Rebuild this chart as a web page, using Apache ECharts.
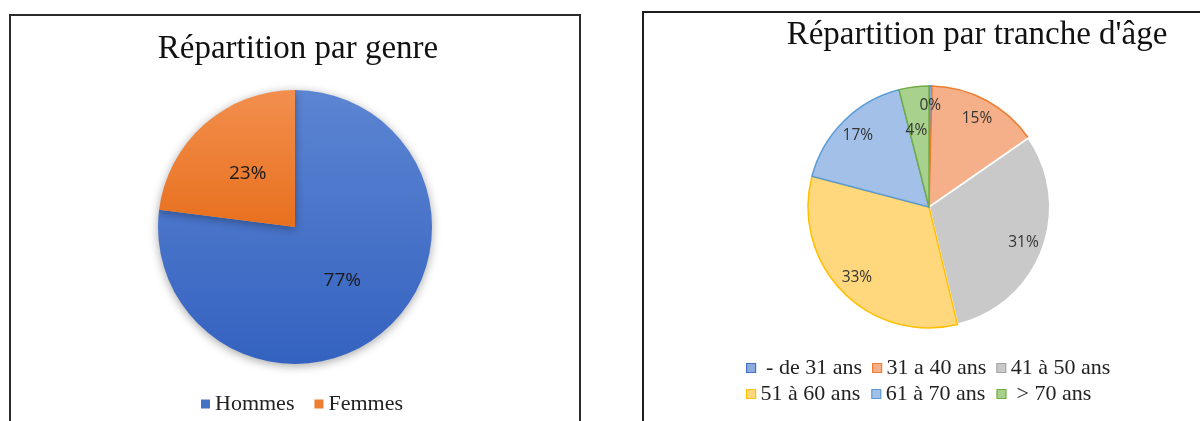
<!DOCTYPE html>
<html>
<head>
<meta charset="utf-8">
<script src="https://cdn.jsdelivr.net/npm/echarts@6/dist/echarts.min.js"></script>
<style>
  html, body { margin: 0; padding: 0; background: #ffffff; }
  #chart { width: 1200px; height: 421px; }
</style>
</head>
<body>
<div id="chart"></div>
<script>
// ---- Data ----
const genreTitle = 'Répartition par genre';
const genreCategories = ['Hommes', 'Femmes'];
const genreValues = [77, 23];

const ageTitle = "Répartition par tranche d'âge";
const ageCategories = ['- de 31 ans', '31 a 40 ans', '41 à 50 ans', '51 à 60 ans', '61 à 70 ans', '> 70 ans'];
const ageValues = [0.4, 15, 31, 33, 17, 4];

// ---- Styles ----
const genreStyles = [
  { color: new echarts.graphic.LinearGradient(0, 0, 0, 1, [{ offset: 0, color: '#5c85d2' }, { offset: 1, color: '#3462c0' }]), legendColor: '#4472c4' },
  { color: new echarts.graphic.LinearGradient(0, 0, 0, 1, [{ offset: 0, color: '#f28f4e' }, { offset: 1, color: '#e8701e' }]), legendColor: '#ed7d31' }
];
const ageFill = ['#8eaadb', '#f5b08a', '#c9c9c9', '#ffd77d', '#a3c1e8', '#a9d18e'];
const ageBorder = ['#4472c4', '#ed7d31', '#ffffff', '#ffc000', '#5b9bd5', '#70ad47'];
const ageLegendBorder = ['#4472c4', '#ed7d31', '#a5a5a5', '#ffc000', '#5b9bd5', '#70ad47'];

const serif = '"Liberation Serif", "Times New Roman", serif';
const sans = '"Open Sans", "Liberation Sans", sans-serif';

const pctFormatter = p => Math.round(p.percent) + '%';

const genreData = genreCategories.map((name, i) => ({
  name: name,
  value: genreValues[i],
  itemStyle: { color: genreStyles[i].color }
}));

const ageData = ageCategories.map((name, i) => ({
  name: name,
  value: ageValues[i],
  itemStyle: { color: ageFill[i], borderColor: ageBorder[i], borderWidth: i === 2 ? 2 : 1.5 }
}));

const ageLabelData = ageCategories.map((name, i) => {
  const item = { name: name, value: ageValues[i] };
  if (name === '> 70 ans') item.label = { offset: [0, 24] };
  return item;
});

const ageLegendItems = ageCategories.map((name, i) => ({
  name: name,
  itemStyle: { color: ageFill[i], borderColor: ageLegendBorder[i], borderWidth: 1.2 }
}));

// Excel shows a little extra space before entries starting with a symbol
const ageLegendFormatter = name => (/^[0-9]/.test(name) ? name : ' ' + name);

const chart = echarts.init(document.getElementById('chart'), null, { renderer: 'canvas' });

const option = {
  backgroundColor: '#ffffff',
  animation: false,
  graphic: [
    { type: 'rect', shape: { x: 10, y: 15, width: 570, height: 440 }, style: { fill: 'none', stroke: '#2b2b2b', lineWidth: 2 }, silent: true },
    { type: 'rect', shape: { x: 643, y: 12, width: 600, height: 440 }, style: { fill: 'none', stroke: '#1e1e1e', lineWidth: 2 }, silent: true }
  ],
  title: [
    { text: genreTitle, left: 293, top: 28, textAlign: 'center',
      textStyle: { fontFamily: serif, fontSize: 33, fontWeight: 'normal', color: '#111111' } },
    { text: ageTitle, left: 972, top: 14, textAlign: 'center',
      textStyle: { fontFamily: serif, fontSize: 33, fontWeight: 'normal', color: '#111111' } }
  ],
  legend: [
    {
      data: genreCategories.map((n, i) => ({ name: n, itemStyle: { color: genreStyles[i].legendColor } })),
      left: 196, top: 388, orient: 'horizontal',
      icon: 'rect', itemWidth: 9, itemHeight: 9, itemGap: 20,
      textStyle: { fontFamily: serif, fontSize: 22, color: '#222222' }
    },
    {
      data: ageLegendItems.slice(0, 3),
      formatter: ageLegendFormatter,
      left: 741, top: 352, orient: 'horizontal',
      icon: 'rect', itemWidth: 9, itemHeight: 9, itemGap: 10,
      textStyle: { fontFamily: serif, fontSize: 22, color: '#222222' }
    },
    {
      data: ageLegendItems.slice(3),
      formatter: ageLegendFormatter,
      left: 741, top: 378, orient: 'horizontal',
      icon: 'rect', itemWidth: 9, itemHeight: 9, itemGap: 11,
      textStyle: { fontFamily: serif, fontSize: 22, color: '#222222' }
    }
  ],
  series: [
    {
      name: 'genre',
      type: 'pie',
      center: [295, 227],
      radius: [0, 137],
      startAngle: 90,
      clockwise: true,
      avoidLabelOverlap: false,
      data: genreData,
      itemStyle: { shadowBlur: 10, shadowColor: 'rgba(0,0,0,0.35)', shadowOffsetY: 2 },
      label: { position: 'inside', formatter: pctFormatter, fontFamily: sans, fontSize: 19, color: '#1a1a1a' },
      labelLine: { show: false },
      emphasis: { disabled: true }
    },
    {
      name: 'age',
      type: 'pie',
      center: [929, 207],
      radius: [0, 121],
      startAngle: 90,
      clockwise: true,
      avoidLabelOverlap: false,
      data: ageData,
      label: { show: false },
      labelLine: { show: false },
      emphasis: { disabled: true }
    },
    {
      name: 'ageLabels',
      type: 'pie',
      center: [929, 207],
      radius: [0, 196],
      startAngle: 90,
      clockwise: true,
      silent: true,
      avoidLabelOverlap: false,
      z: 5,
      data: ageLabelData,
      itemStyle: { color: 'rgba(0,0,0,0)', borderWidth: 0 },
      label: { position: 'inside', formatter: pctFormatter, fontFamily: sans, fontSize: 15.5, color: '#333333' },
      labelLine: { show: false },
      emphasis: { disabled: true }
    }
  ]
};

chart.setOption(option);
</script>
</body>
</html>
